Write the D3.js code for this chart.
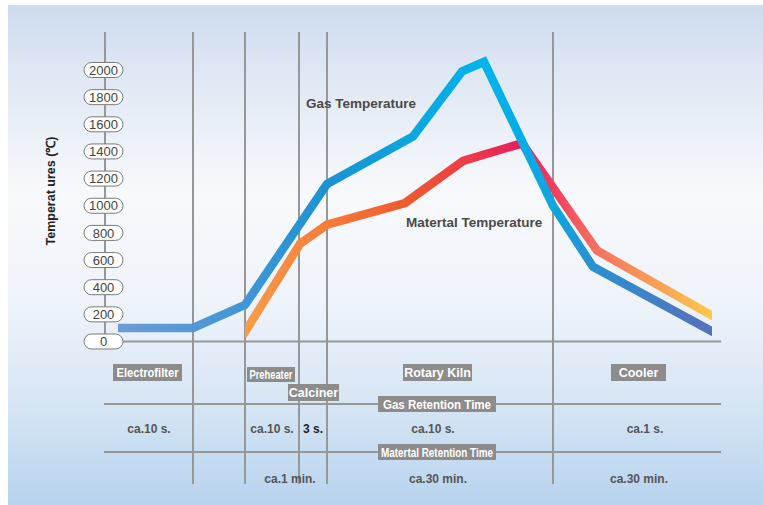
<!DOCTYPE html>
<html>
<head>
<meta charset="utf-8">
<script src="https://cdn.jsdelivr.net/npm/d3@7/dist/d3.min.js"></script>
<style>
  html, body { margin: 0; padding: 0; background: #fff; }
  svg { display: block; }
  text { font-family: "Liberation Sans", Arial, sans-serif; }
</style>
</head>
<body>
<svg id="chart" width="763" height="505"></svg>
<script>
// Temperature profile along the cement process (position in process units, °C)
const gasPos   = [13, 88, 140, 222, 308, 357, 379, 448, 488, 607];
const gasTemp  = [100, 100, 270, 1160, 1510, 1990, 2060, 1000, 550, 75];
const matPos   = [140, 195, 222, 300, 358, 417, 492, 607];
const matTemp  = [70, 720, 860, 1020, 1330, 1460, 670, 190];

// Stage boundaries (process units) and tick values
const stageBounds = [88, 140, 194, 222, 448];
const yTicks = [0, 200, 400, 600, 800, 1000, 1200, 1400, 1600, 1800, 2000];

// Stage names and retention times
const stageNames = ["Electrofilter", "Preheater", "Calciner", "Rotary Kiln", "Cooler"];
const rowTitles = ["Gas Retention Time", "Matertal Retention Time"];
const gasTimes = ["ca.10 s.", "ca.10 s.", "3 s.", "ca.10 s.", "ca.1 s."];
const matTimes = ["ca.1 min.", "ca.30 min.", "ca.30 min."];

const svg = d3.select("#chart");
const defs = svg.append("defs");

const x = d3.scaleLinear().domain([0, 616]).range([105, 721]);
const y = d3.scaleLinear().domain([0, 2000]).range([341.5, 70]);

// Background panel
const bg = defs.append("linearGradient").attr("id", "bg")
  .attr("x1", 0).attr("y1", 0).attr("x2", 0).attr("y2", 1);
[[0, "#ccdbee"], [0.12, "#dde6f3"], [0.38, "#f8f9fc"], [0.6, "#eef3fa"], [0.8, "#d6e5f4"], [1, "#b7d3ee"]]
  .forEach(([o, c]) => bg.append("stop").attr("offset", o).attr("stop-color", c));
svg.append("rect").attr("x", 8).attr("y", 5).attr("width", 755).attr("height", 500).attr("fill", "url(#bg)");

const grid = "#979797";

// y axis line
svg.append("line").attr("x1", x(0)).attr("x2", x(0)).attr("y1", 32).attr("y2", y(0))
  .attr("stroke", grid).attr("stroke-width", 2);
// baseline
svg.append("line").attr("x1", x(0)).attr("x2", x(616)).attr("y1", y(0)).attr("y2", y(0))
  .attr("stroke", grid).attr("stroke-width", 2);
// stage boundaries
svg.selectAll("line.stage").data(stageBounds).join("line").attr("class", "stage")
  .attr("x1", d => x(d)).attr("x2", d => x(d)).attr("y1", 32).attr("y2", 484)
  .attr("stroke", grid).attr("stroke-width", 2);
// retention table rules
svg.selectAll("line.row").data([404, 452]).join("line").attr("class", "row")
  .attr("x1", x(0) - 1).attr("x2", x(616)).attr("y1", d => d).attr("y2", d => d)
  .attr("stroke", grid).attr("stroke-width", 2);

// tick pills
const tg = svg.selectAll("g.tick").data(yTicks).join("g").attr("class", "tick")
  .attr("transform", d => `translate(103.5,${y(d)})`);
tg.append("rect").attr("x", -19.5).attr("y", -7.5).attr("width", 39).attr("height", 15)
  .attr("rx", 7.5).attr("fill", "#fff").attr("stroke", "#7a7a7a").attr("stroke-width", 1);
tg.append("text").attr("text-anchor", "middle").attr("dy", "0.36em")
  .attr("font-size", 13).attr("fill", "#444").text(d => d);

// y title
svg.append("text").attr("transform", "translate(55,191) rotate(-90)")
  .attr("text-anchor", "middle").attr("font-size", 12.5).attr("font-weight", "bold")
  .attr("fill", "#222").text("Temperat ures (℃)");

// line gradients
function grad(id, stops) {
  const g = defs.append("linearGradient").attr("id", id).attr("gradientUnits", "userSpaceOnUse")
    .attr("x1", x(0)).attr("x2", x(616)).attr("y1", 0).attr("y2", 0);
  stops.forEach(([p, c]) => g.append("stop").attr("offset", (x(p) - x(0)) / (x(616) - x(0))).attr("stop-color", c));
}
grad("gasGrad", [[13, "#6d9bd6"], [140, "#4196d6"], [222, "#1b92d3"], [308, "#0aa6e0"], [379, "#00b4eb"], [448, "#0ea6df"], [488, "#2a91d2"], [607, "#5870b9"]]);
grad("matGrad", [[140, "#f89d48"], [222, "#f57c3a"], [300, "#f05a2e"], [358, "#ee3e45"], [417, "#e91c5c"], [492, "#f47360"], [607, "#ffc84a"]]);

function clip(id, a, b) {
  defs.append("clipPath").attr("id", id).append("rect")
    .attr("x", x(a)).attr("y", 0).attr("width", x(b) - x(a)).attr("height", 505);
}
clip("gasClip", gasPos[0], gasPos[gasPos.length - 1]);
clip("matClip", matPos[0], matPos[matPos.length - 1]);

const line = d3.line().x(d => x(d[0])).y(d => y(d[1]));

svg.append("path").datum(matPos.map((p, i) => [p, matTemp[i]]))
  .attr("d", line).attr("fill", "none").attr("stroke", "url(#matGrad)")
  .attr("stroke-width", 8.5).attr("stroke-linecap", "square").attr("stroke-linejoin", "miter")
  .attr("clip-path", "url(#matClip)");
svg.append("path").datum(gasPos.map((p, i) => [p, gasTemp[i]]))
  .attr("d", line).attr("fill", "none").attr("stroke", "url(#gasGrad)")
  .attr("stroke-width", 8.5).attr("stroke-linecap", "square").attr("stroke-linejoin", "miter")
  .attr("clip-path", "url(#gasClip)");

// series labels
svg.append("text").attr("x", 306).attr("y", 108).attr("font-size", 13.5).attr("font-weight", "bold")
  .attr("fill", "#4a4a4a").text("Gas Temperature");
svg.append("text").attr("x", 406).attr("y", 227).attr("font-size", 13.5).attr("font-weight", "bold")
  .attr("fill", "#4a4a4a").text("Matertal Temperature");

// gray tag labels
function tag(label, cx, cy, w, h, fs) {
  svg.append("rect").attr("x", cx - w / 2).attr("y", cy - h / 2).attr("width", w).attr("height", h)
    .attr("fill", "#8c8c8c");
  const t = svg.append("text").attr("x", cx).attr("y", cy).attr("dy", "0.36em")
    .attr("text-anchor", "middle").attr("font-size", fs).attr("font-weight", "bold")
    .attr("fill", "#fff").text(label);
  return t;
}
tag(stageNames[0], 147.5, 372.5, 69, 17, 12.5).attr("textLength", 62).attr("lengthAdjust", "spacingAndGlyphs");
tag(stageNames[1], 271, 374.5, 48, 15, 12).attr("textLength", 43).attr("lengthAdjust", "spacingAndGlyphs");
tag(stageNames[2], 313.5, 392.5, 51, 17, 12.5);
tag(stageNames[3], 437.5, 372.5, 69, 17, 12.5);
tag(stageNames[4], 638.5, 372.5, 55, 17, 12.5);
tag(rowTitles[0], 437, 404, 118, 16, 12.5).attr("textLength", 108).attr("lengthAdjust", "spacingAndGlyphs");
tag(rowTitles[1], 437, 452, 118, 16, 12.5).attr("textLength", 112).attr("lengthAdjust", "spacingAndGlyphs");

// retention times
const gasX = [149, 272, 313, 433, 645];
svg.selectAll("text.gt").data(gasTimes).join("text").attr("class", "gt")
  .attr("x", (d, i) => gasX[i]).attr("y", 429).attr("dy", "0.36em").attr("text-anchor", "middle")
  .attr("font-size", 12).attr("font-weight", "bold")
  .attr("fill", (d, i) => i === 2 ? "#222" : "#555").text(d => d);
const matX = [290, 438, 639];
svg.selectAll("text.mt").data(matTimes).join("text").attr("class", "mt")
  .attr("x", (d, i) => matX[i]).attr("y", 479).attr("dy", "0.36em").attr("text-anchor", "middle")
  .attr("font-size", 12).attr("font-weight", "bold").attr("fill", "#555").text(d => d);
</script>
</body>
</html>
